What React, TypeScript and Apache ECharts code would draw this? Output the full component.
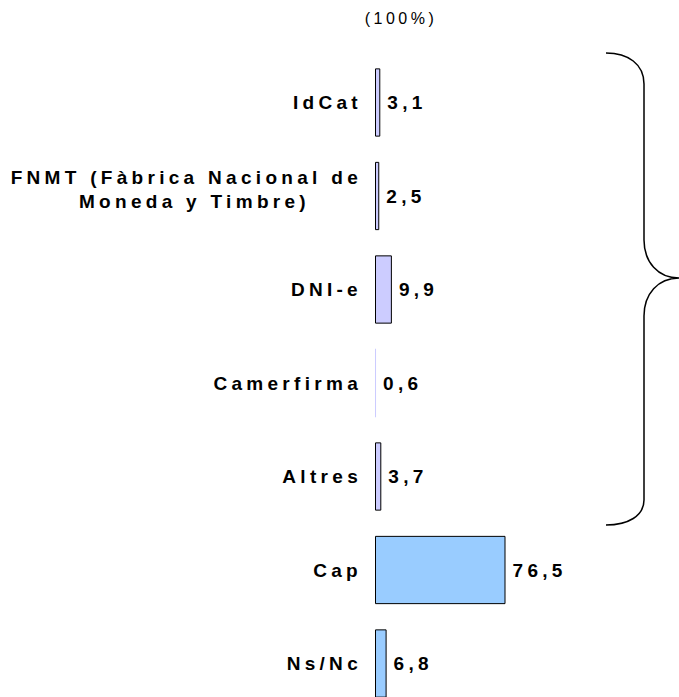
import React, { useEffect, useRef } from "react";
import * as echarts from "echarts";

const categories = [
  "IdCat",
  "FNMT (Fàbrica Nacional de\nMoneda y Timbre)",
  "DNI-e",
  "Camerfirma",
  "Altres",
  "Cap",
  "Ns/Nc",
];
const values = [3.1, 2.5, 9.9, 0.6, 3.7, 76.5, 6.8];
const barColors = ["#CCCCFF", "#CCCCFF", "#CCCCFF", "#CCCCFF", "#CCCCFF", "#99CCFF", "#99CCFF"];
const titleText = "(100%)";
const axisMin = 0;
const axisMax = 100;

const braceD =
  "M606,53 C628,53 644,64 644,84 L644,240 C644,262 658,278 679,278 C658,278 644,294 644,316 L644,500 C644,516 628,525 606,525";

echarts.graphic.registerShape("brace", echarts.graphic.extendPath(braceD, {}));

const FONT = "'Liberation Sans', Arial, sans-serif";

export default function App() {
  const ref = useRef<HTMLDivElement>(null);
  useEffect(() => {
    if (!ref.current) return;
    const chart = echarts.init(ref.current, undefined, { renderer: "svg" });
    chart.setOption({
      animation: false,
      title: {
        text: titleText,
        left: 396,
        top: 5,
        textAlign: "center",
        textStyle: { fontSize: 16, fontWeight: "normal", color: "#000", fontFamily: FONT },
      },
      grid: {
        left: 375,
        right: 133.4,
        top: 55.75,
        bottom: -13.25,
        containLabel: false,
        outerBoundsMode: "none",
      },
      xAxis: {
        type: "value",
        min: axisMin,
        max: axisMax,
        show: false,
      },
      yAxis: {
        type: "category",
        inverse: true,
        data: categories,
        axisLine: { show: false },
        axisTick: { show: false },
        splitLine: { show: false },
        axisLabel: {
          margin: 13,
          fontSize: 19,
          fontWeight: "bold",
          color: "#000",
          fontFamily: FONT,
          formatter: (v: string) =>
            v.includes("\n")
              ? v
                  .split("\n")
                  .map((l, i) => `{${i ? "m" : "l"}|${l}}`)
                  .join("\n") + "\n{s| }"
              : v,
          rich: {
            l: { align: "right", fontSize: 19, fontWeight: "bold", color: "#000", fontFamily: FONT, lineHeight: 24 },
            m: {
              align: "right",
              fontSize: 19,
              fontWeight: "bold",
              color: "#000",
              fontFamily: FONT,
              lineHeight: 24,
              padding: [0, 52, 0, 0],
            },
            s: { fontSize: 8, lineHeight: 14, align: "right" },
          },
        },
      },
      series: [
        {
          type: "bar",
          barWidth: "73%",
          data: values.map((v, i) => ({
            value: v,
            itemStyle: {
              color: barColors[i],
              borderColor: "#000",
              borderWidth: v < 1 ? 0 : 1,
            },
          })),
          label: {
            show: true,
            position: "right",
            distance: 7,
            fontSize: 19,
            fontWeight: "bold",
            color: "#000",
            fontFamily: FONT,
            formatter: (p: any) => String(p.value).replace(".", ","),
          },
        },
      ],
      graphic: [
        {
          type: "brace",
          x: 0,
          y: 0,
          silent: true,
          style: { fill: "none", stroke: "#000", lineWidth: 1.5 },
        },
      ],
    });
    return () => chart.dispose();
  }, []);
  return (
    <>
      <style>{`#chart text { letter-spacing: 3.5px; } #chart text[style*="bold"] { letter-spacing: 4.3px; }`}</style>
      <div
        id="chart"
        ref={ref}
        style={{ position: "absolute", left: 0, top: 0, width: 679, height: 697, background: "#fff" }}
      />
    </>
  );
}
